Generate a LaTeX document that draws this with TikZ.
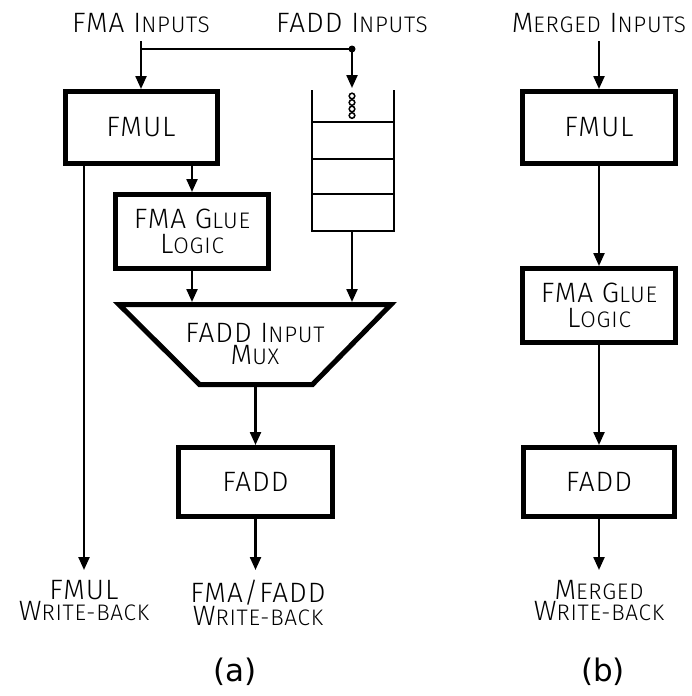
\documentclass[tikz,border=0pt]{standalone}
\usepackage{fontspec}
\setmainfont{Fira Sans}[UprightFont=* Light, LetterSpace=3.5]
\newfontfamily\labfont{DejaVu Sans}
\newcommand\smc[1]{{\fontsize{22.5}{22}\selectfont #1}}
\usetikzlibrary{arrows.meta}
\begin{document}
\begin{tikzpicture}[x=1pt,y=-1pt,
  every node/.style={font=\fontsize{28}{23}\selectfont, inner sep=0pt, align=center},
  blk/.style={draw, line width=5pt, outer sep=2.5pt},
  thin/.style={line width=2.3pt},
  arr/.style={thin, -{Triangle[length=13pt,width=11pt]}},
  lab/.style={font=\labfont\fontsize{31}{34}\selectfont}
]
\useasboundingbox (0,0) rectangle (691,696);

% ---------- (a) ----------
\node[anchor=base, inner ysep=9pt] (inA) at (141,32) {FMA I\smc{NPUTS}};
\node[anchor=base, inner ysep=9pt] (inF) at (352,32) {FADD I\smc{NPUTS}};

\node[blk, minimum width=152pt, minimum height=72pt] (fmulA) at (141,127.5) {FMUL};
\node[blk, minimum width=153pt, minimum height=74pt, font=\fontsize{28}{25}\selectfont] (glueA) at (192,231.5) {FMA G\smc{LUE}\\L\smc{OGIC}};

% mux (trapezoid)
\node[font=\fontsize{28}{22}\selectfont] (muxA) at (255,344) {FADD I\smc{NPUT}\\M\smc{UX}};
\coordinate (mTL) at (119,304.5);
\coordinate (mTR) at (391,304.5);
\coordinate (mBR) at (312.5,384.5);
\coordinate (mBL) at (199.5,384.5);
\draw[line width=5pt] (mTL) -- (mTR) -- (mBR) -- (mBL) -- cycle;
\coordinate (mInL) at (192,302);
\coordinate (mInR) at (352,302);
\coordinate (mOut) at (255.5,387);

\node[blk, minimum width=154pt, minimum height=69pt] (fadA) at (255.5,482) {FADD};

% queue
\coordinate (qTL) at (312,90);
\coordinate (qTR) at (394,90);
\coordinate (qBL) at (312,231);
\coordinate (qBR) at (394,231);
\draw[line width=2pt] (qTL) -- (qBL) -- (qBR) -- (qTR);
\foreach \yy in {122,159,194} \draw[line width=2pt] (312,\yy) -- (394,\yy);
\foreach \yy in {96,102.5,109,115.5} \draw[line width=1.5pt] (352,\yy) circle (2.8pt);
\coordinate (qTop) at (352,88);
\coordinate (qBot) at (352,231);

\node[anchor=north, inner ysep=10pt, font=\fontsize{28}{21.5}\selectfont] (wbA1) at (84,570) {FMUL\\W\smc{RITE-BACK}};
\node[anchor=north, inner ysep=10pt, font=\fontsize{28}{21.5}\selectfont] (wbA2) at (258,570) {FMA/FADD\\W\smc{RITE-BACK}};

\coordinate (j1) at (141,49);
\coordinate (j2) at (352,49);
\draw[arr] (inA.south) -- (fmulA.north);
\draw[thin] (j1) -- (j2);
\fill (j2) circle (3.5pt);
\draw[arr] (j2) -- (qTop);
\draw[arr] (qBot) -- (mInR);
\draw[arr] (glueA.north |- fmulA.south) -- (glueA.north);
\draw[arr] (glueA.south) -- (mInL);
\draw[arr] (fmulA.south -| wbA1.north) -- (wbA1.north);
\draw[arr] (mOut) -- (fadA.north);
\draw[arr] (fadA.south) -- (wbA2.north -| fadA.south);

\node[lab] (capA) at (235,672) {(a)};

% ---------- (b) ----------
\node[anchor=base, inner ysep=9pt] (inB) at (599,32) {M\smc{ERGED} I\smc{NPUTS}};
\node[blk, minimum width=153pt, minimum height=72pt] (fmulB) at (599,127.5) {FMUL};
\node[blk, minimum width=153pt, minimum height=74pt, font=\fontsize{28}{25}\selectfont] (glueB) at (599,305.5) {FMA G\smc{LUE}\\L\smc{OGIC}};
\node[blk, minimum width=151pt, minimum height=69pt] (fadB) at (599,482) {FADD};
\node[anchor=north, inner ysep=10pt, font=\fontsize{28}{21.5}\selectfont] (wbB) at (599,570) {M\smc{ERGED}\\W\smc{RITE-BACK}};

\draw[arr] (inB.south) -- (fmulB.north);
\draw[arr] (fmulB.south) -- (glueB.north);
\draw[arr] (glueB.south) -- (fadB.north);
\draw[arr] (fadB.south) -- (wbB.north);

\node[lab] (capB) at (603,672) {(b)};
\end{tikzpicture}
\end{document}
